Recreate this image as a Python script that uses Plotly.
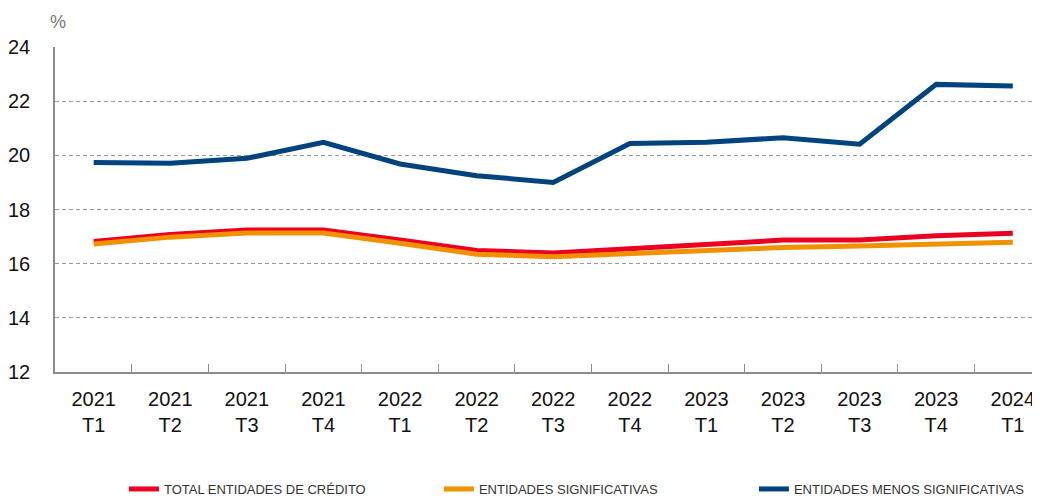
import plotly.graph_objects as go

categories = ["2021<br>T1", "2021<br>T2", "2021<br>T3", "2021<br>T4",
              "2022<br>T1", "2022<br>T2", "2022<br>T3", "2022<br>T4",
              "2023<br>T1", "2023<br>T2", "2023<br>T3", "2023<br>T4",
              "2024<br>T1"]
total = [16.82, 17.08, 17.24, 17.24, 16.87, 16.49, 16.39, 16.54, 16.71, 16.87, 16.87, 17.03, 17.12]
significativas = [16.73, 16.98, 17.13, 17.13, 16.75, 16.35, 16.26, 16.37, 16.50, 16.60, 16.65, 16.72, 16.79]
menos_significativas = [19.74, 19.71, 19.89, 20.48, 19.68, 19.25, 19.00, 20.44, 20.48, 20.65, 20.41, 22.62, 22.56]
yticks = [12, 14, 16, 18, 20, 22, 24]

names = ["TOTAL ENTIDADES DE CRÉDITO", "ENTIDADES SIGNIFICATIVAS", "ENTIDADES MENOS SIGNIFICATIVAS"]
colors = ["#EC0021", "#F29100", "#00437F"]
series = [total, significativas, menos_significativas]

xs = list(range(len(categories)))
fig = go.Figure()
for name, col, vals in zip(names, colors, series):
    fig.add_trace(go.Scatter(x=xs, y=vals, mode="lines", name=name,
                             line=dict(color=col, width=5)))

# invisible trace to drive secondary axis with between-category ticks
fig.add_trace(go.Scatter(x=[0], y=[None], xaxis="x2", showlegend=False, hoverinfo="skip"))

xr = [-0.505, 12.355]
fig.update_layout(
    width=1032, height=491,
    margin=dict(l=47, r=0, t=39, b=127, autoexpand=False),
    plot_bgcolor="white", paper_bgcolor="white",
    font=dict(family="Liberation Sans, Arial, sans-serif", color="#111"),
    xaxis=dict(range=xr, tickvals=xs, ticktext=categories, ticks="",
               showgrid=False, showline=True, linecolor="#8c8c8c", linewidth=1.5,
               tickfont=dict(size=20, color="#111"), ticklabelstandoff=8,
               zeroline=False),
    xaxis2=dict(range=xr, overlaying="x", side="bottom", anchor="y",
                tickvals=[i + 0.5 for i in range(12)], ticks="inside", ticklen=8,
                tickcolor="#8c8c8c", tickwidth=1.2, showticklabels=False,
                showgrid=False, showline=False, zeroline=False),
    yaxis=dict(range=[12, 24], tickvals=yticks, showgrid=True, gridcolor="#9a9a9a",
               griddash="4px,3px", gridwidth=1, showline=True, linecolor="#8c8c8c",
               linewidth=1.5, ticks="", tickfont=dict(size=20, color="#111"),
               ticklabelstandoff=19, zeroline=False),
    legend=dict(orientation="h", x=0.070, y=-0.36, xanchor="left", yanchor="middle",
                font=dict(family="Liberation Sans Narrow, Arial Narrow, Liberation Sans, sans-serif",
                          size=13, color="#333"),
                entrywidth=270, entrywidthmode="pixels", itemwidth=30),
    annotations=[dict(text="%", xref="paper", yref="paper", x=-0.007, y=1.077,
                      xanchor="left", yanchor="middle", showarrow=False,
                      font=dict(size=18, color="#777"))],
    showlegend=True,
)
fig.write_html("out.html")
